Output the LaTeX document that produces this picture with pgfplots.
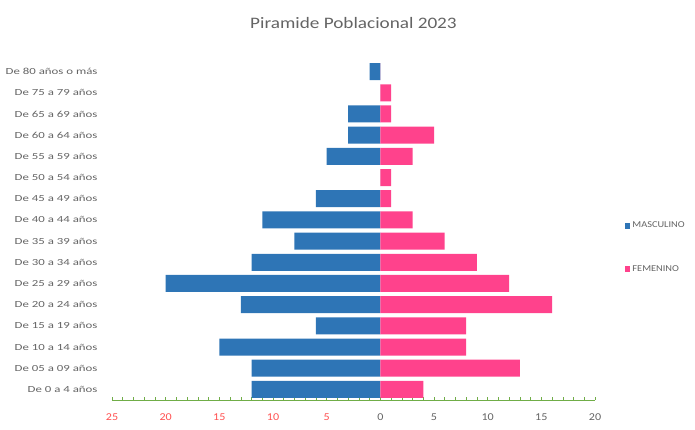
\documentclass[border=0pt]{standalone}
\usepackage{pgfplots}
\pgfplotsset{compat=1.18}
\usepackage{graphicx}
\usepackage{fontspec}
\setmainfont{Carlito}
\definecolor{masc}{RGB}{46,117,182}
\definecolor{fem}{RGB}{255,66,140}
\definecolor{txt}{RGB}{100,100,100}
\definecolor{neg}{RGB}{255,80,80}
\definecolor{axg}{RGB}{112,173,71}
\newcommand{\Y}[1]{\scalebox{1.38}[1]{#1}}
\newcommand{\X}[1]{\scalebox{1.15}[1]{#1}}
\begin{document}
\begin{tikzpicture}
\useasboundingbox (-112pt,-30pt) rectangle (583pt,400pt);
\begin{axis}[
  scale only axis,
  width=483pt, height=339pt,
  xbar, bar width=17pt, bar shift=0pt,
  xmin=-25, xmax=20,
  ymin=-0.5, ymax=15.5,
  axis y line*=left, axis x line*=bottom,
  y axis line style={draw=none},
  x axis line style={axg, line width=0.8pt},
  xtick={-25,-20,-15,-10,-5,0,5,10,15,20},
  xticklabels={\X{\textcolor{neg}{25}},\X{\textcolor{neg}{20}},\X{\textcolor{neg}{15}},\X{\textcolor{neg}{10}},\X{\textcolor{neg}{5}},\X{0},\X{5},\X{10},\X{15},\X{20}},
  minor x tick num=4,
  xtick style={axg, line width=0.6pt},
  xtick align=inside,
  major tick length=3pt, minor tick length=3pt,
  ytick={0,...,15},
  ytick style={draw=none},
  yticklabels={\Y{De 0 a 4 años},\Y{De 05 a 09 años},\Y{De 10 a 14 años},\Y{De 15 a 19 años},\Y{De 20 a 24 años},\Y{De 25 a 29 años},\Y{De 30 a 34 años},\Y{De 35 a 39 años},\Y{De 40 a 44 años},\Y{De 45 a 49 años},\Y{De 50 a 54 años},\Y{De 55 a 59 años},\Y{De 60 a 64 años},\Y{De 65 a 69 años},\Y{De 75 a 79 años},\Y{De 80 años o más}},
  yticklabel style={font=\fontsize{9.3}{11}\selectfont, text=txt, xshift=-8pt},
  xticklabel style={font=\fontsize{10.5}{12}\selectfont, text=txt, yshift=-10pt},
  title={\scalebox{1.2}[1]{Piramide Poblacional 2023}},
  title style={font=\fontsize{16}{19}\selectfont, text=txt, yshift=23pt},
  legend style={at={(1.055,0.45)}, anchor=west, draw=none, font=\fontsize{9}{10}\selectfont, text=txt, row sep=32pt, legend cell align=left},
  legend image code/.code={\fill[#1] (0cm,-0.1cm) rectangle (0.2cm,0.1cm);},
]
\addplot[fill=masc, draw=none] coordinates {
(-12,0) (-12,1) (-15,2) (-6,3) (-13,4) (-20,5) (-12,6) (-8,7) (-11,8) (-6,9) (0,10) (-5,11) (-3,12) (-3,13) (0,14) (-1,15)};
\addlegendentry{\X{MASCULINO}}
\addplot[fill=fem, draw=none] coordinates {
(4,0) (13,1) (8,2) (8,3) (16,4) (12,5) (9,6) (6,7) (3,8) (1,9) (1,10) (3,11) (5,12) (1,13) (1,14) (0,15)};
\addlegendentry{\X{FEMENINO}}
\end{axis}
\end{tikzpicture}
\end{document}
